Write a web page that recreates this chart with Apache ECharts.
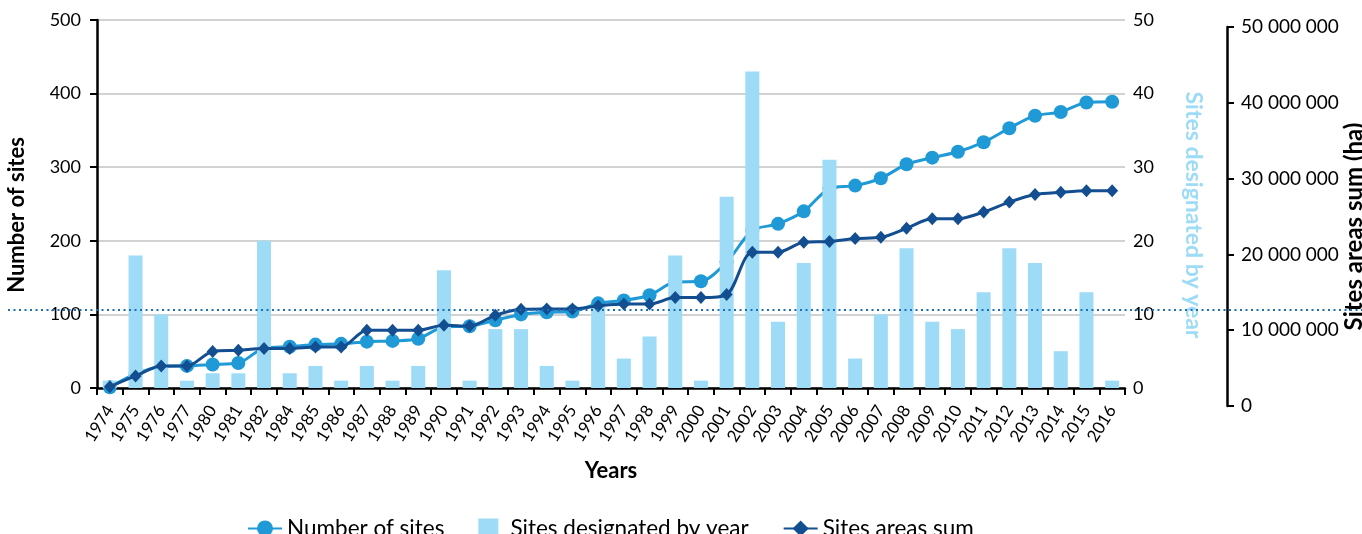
<!DOCTYPE html>
<html>
<head>
<meta charset="utf-8">
<title>Sites designated by year</title>
<script src="https://cdn.jsdelivr.net/npm/echarts@6/dist/echarts.min.js"></script>
<style>
  html, body { margin: 0; padding: 0; background: #fff; }
  #chart { width: 1362px; height: 534px; }
</style>
</head>
<body>
<div id="chart"></div>
<script>
// Years with at least one designation
const years = ['1974','1975','1976','1977','1980','1981','1982','1984','1985','1986','1987','1988','1989','1990',
  '1991','1992','1993','1994','1995','1996','1997','1998','1999','2000','2001','2002','2003','2004','2005',
  '2006','2007','2008','2009','2010','2011','2012','2013','2014','2015','2016'];

// Cumulative number of sites (left axis)
const numberOfSites = [1, 19, 29, 30, 32, 34, 54, 56, 59, 60, 63, 64, 67, 83,
  84, 92, 100, 103, 104, 115, 119, 126, 144, 145, 171, 214, 223, 240, 271,
  275, 285, 304, 313, 321, 334, 353, 370, 375, 388, 389];

// Sites designated in each year (right axis)
const designatedByYear = [1, 18, 10, 1, 2, 2, 20, 2, 3, 1, 3, 1, 3, 16,
  1, 8, 8, 3, 1, 11, 4, 7, 18, 1, 26, 43, 9, 17, 31,
  4, 10, 19, 9, 8, 13, 19, 17, 5, 13, 1];

// Cumulative area of the sites, in hectares (outer axis)
const areasSum = [2550000, 3960000, 5280000, 5280000, 7200000, 7350000, 7600000, 7600000, 7800000, 7800000,
  10000000, 10000000, 10000000, 10650000, 10550000, 11960000, 12750000, 12800000, 12800000, 13200000,
  13450000, 13450000, 14300000, 14300000, 14700000, 20300000, 20300000, 21600000, 21700000, 22100000,
  22250000, 23450000, 24700000, 24700000, 25600000, 26900000, 27900000, 28200000, 28400000, 28400000];

const sitesTicks = [0, 100, 200, 300, 400, 500];
const designatedTicks = [0, 10, 20, 30, 40, 50];
const areaTicks = [0, 10000000, 20000000, 30000000, 40000000, 50000000];

const FONT = 'Lato, "Open Sans", sans-serif';
const C_SITES = '#1f9ad6';
const C_BARS = '#9ddbf6';
const C_AREA = '#134e91';

const spaced = v => String(v).replace(/\B(?=(\d{3})+(?!\d))/g, ' ');

const chart = echarts.init(document.getElementById('chart'), null, { renderer: 'canvas' });

chart.setOption({
  animation: false,
  backgroundColor: '#fff',
  textStyle: { fontFamily: FONT, color: '#000' },
  grid: [
    { left: 97, right: 237, top: 20, bottom: 146, outerBoundsMode: 'none', containLabel: false },
    { left: 97, right: 237, top: 27, bottom: 128, outerBoundsMode: 'none', containLabel: false }
  ],
  legend: {
    left: 242,
    top: 512,
    itemWidth: 34,
    itemHeight: 20,
    itemGap: 34,
    textStyle: { fontFamily: FONT, fontSize: 22.5, color: '#000' },
    data: [
      { name: 'Number of sites' },
      { name: 'Sites designated by year', icon: 'path://M0,0L1,0L1,1L0,1Z' },
      { name: 'Sites areas sum' }
    ]
  },
  xAxis: [
    {
      type: 'category',
      gridIndex: 0,
      data: years,
      boundaryGap: true,
      name: 'Years',
      nameLocation: 'middle',
      nameGap: 72,
      nameMoveOverlap: false,
      nameTextStyle: { fontFamily: FONT, fontSize: 22, fontWeight: 'bold', color: '#000' },
      axisLine: { lineStyle: { color: '#000', width: 2.5 } },
      axisTick: { show: true, length: 7, lineStyle: { color: '#000', width: 2 } },
      axisLabel: { rotate: 58, fontSize: 17, color: '#000', margin: 19, interval: 0, fontFamily: FONT }
    },
    {
      type: 'category',
      gridIndex: 1,
      data: years,
      boundaryGap: true,
      show: false
    }
  ],
  yAxis: [
    {
      type: 'value',
      gridIndex: 0,
      position: 'left',
      min: sitesTicks[0],
      max: sitesTicks[sitesTicks.length - 1],
      interval: 100,
      name: 'Number of sites',
      nameLocation: 'middle',
      nameRotate: 90,
      nameGap: 69,
      nameMoveOverlap: false,
      nameTextStyle: { fontFamily: FONT, fontSize: 22, fontWeight: 'bold', color: '#000', verticalAlign: 'bottom', padding: [0, 22, 0, 0] },
      axisLine: { show: true, lineStyle: { color: '#000', width: 2.5 } },
      axisTick: { show: true, length: 7, lineStyle: { color: '#000', width: 2 } },
      axisLabel: { fontSize: 18, color: '#000', margin: 16, fontFamily: FONT },
      splitLine: { show: true, lineStyle: { color: '#c3c3c3', width: 1.5 } }
    },
    {
      type: 'value',
      gridIndex: 0,
      position: 'right',
      min: designatedTicks[0],
      max: designatedTicks[designatedTicks.length - 1],
      interval: 10,
      name: 'Sites designated by year',
      nameLocation: 'middle',
      nameRotate: -90,
      nameGap: 57,
      nameMoveOverlap: false,
      nameTextStyle: { fontFamily: FONT, fontSize: 23, fontWeight: 'bold', color: C_BARS, padding: [0, 0, 0, 22] },
      axisLine: { show: false },
      axisTick: { show: false },
      axisLabel: { fontSize: 18, color: '#000', margin: 8, fontFamily: FONT },
      splitLine: { show: false }
    },
    {
      type: 'value',
      gridIndex: 1,
      position: 'right',
      offset: 102,
      min: areaTicks[0],
      max: areaTicks[areaTicks.length - 1],
      interval: 10000000,
      name: 'Sites areas sum (ha)',
      nameLocation: 'middle',
      nameRotate: 90,
      nameGap: 115,
      nameMoveOverlap: false,
      nameTextStyle: { fontFamily: FONT, fontSize: 24, fontWeight: 'bold', color: '#000', verticalAlign: 'top', padding: [0, 20, 0, 0] },
      axisLine: { show: true, lineStyle: { color: '#000', width: 2.5 } },
      axisTick: { show: true, length: 7, lineStyle: { color: '#000', width: 2 } },
      axisLabel: { fontSize: 19, color: '#000', margin: 14, fontFamily: FONT, formatter: spaced },
      splitLine: { show: false }
    }
  ],
  series: [
    {
      name: 'Number of sites',
      type: 'line',
      xAxisIndex: 0,
      yAxisIndex: 0,
      data: numberOfSites,
      smooth: 0.3,
      symbol: 'circle',
      symbolSize: 14,
      z: 1,
      lineStyle: { color: C_SITES, width: 3 },
      itemStyle: { color: C_SITES }
    },
    {
      name: 'Sites designated by year',
      type: 'bar',
      xAxisIndex: 0,
      yAxisIndex: 1,
      data: designatedByYear,
      barWidth: 14,
      z: 2,
      itemStyle: { color: C_BARS }
    },
    {
      name: 'Sites areas sum',
      type: 'line',
      xAxisIndex: 1,
      yAxisIndex: 2,
      data: areasSum,
      smooth: 0.3,
      symbol: 'diamond',
      symbolSize: [12, 13],
      z: 3,
      lineStyle: { color: C_AREA, width: 3 },
      itemStyle: { color: C_AREA }
    }
  ],
  graphic: [
    {
      type: 'line',
      z: 100,
      silent: true,
      shape: { x1: 8, y1: 310, x2: 1362, y2: 310 },
      style: { stroke: '#1b6eb5', lineWidth: 2.2, lineDash: [2, 3.5] }
    }
  ]
});
</script>
</body>
</html>
